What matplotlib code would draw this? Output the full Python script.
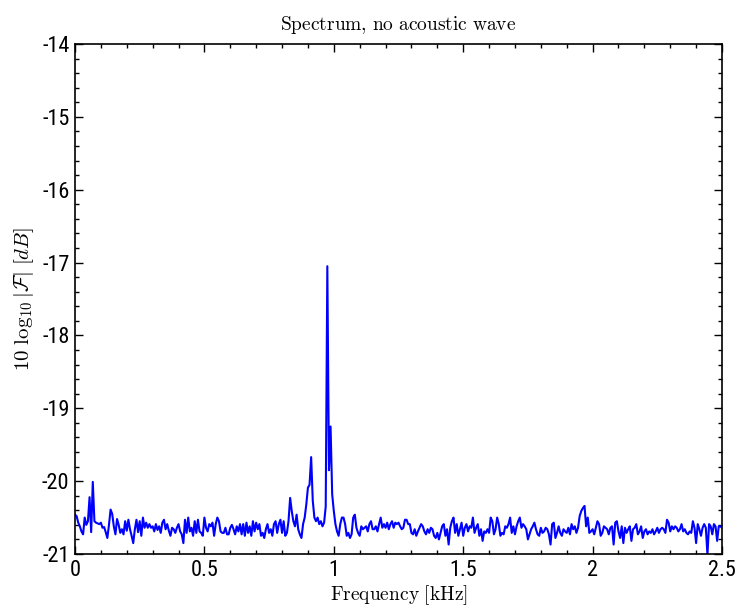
import numpy as np
import matplotlib
matplotlib.use("Agg")
import matplotlib.pyplot as plt
from matplotlib.ticker import MultipleLocator
from matplotlib import font_manager as fm

# Spectrum magnitude [dB], uniformly sampled from 0 to 2.5 kHz
f_start_khz = 0.0
f_stop_khz = 2.5
spectrum_db = [
    # 0.000 - 0.600
    -20.46, -20.48, -20.57, -20.62, -20.69, -20.73, -20.50, -20.60, -20.55, -20.22,
    -20.70, -20.01, -20.55, -20.57, -20.58, -20.59, -20.57, -20.64, -20.63, -20.70,
    -20.78, -20.60, -20.39, -20.45, -20.62, -20.73, -20.52, -20.60, -20.71, -20.66,
    -20.73, -20.55, -20.68, -20.53, -20.66, -20.75, -20.85, -20.66, -20.53, -20.70,
    -20.55, -20.75, -20.50, -20.64, -20.57, -20.64, -20.59, -20.64, -20.62, -20.69,
    -20.59, -20.67, -20.62, -20.71, -20.57, -20.53, -20.66, -20.59, -20.68, -20.75,
    -20.64, -20.66, -20.71, -20.64, -20.59, -20.69, -20.73, -20.85, -20.53, -20.71,
    -20.50, -20.69, -20.64, -20.75, -20.55, -20.71, -20.53, -20.69, -20.71, -20.75,
    -20.50, -20.64, -20.69, -20.59, -20.62, -20.57, -20.75, -20.59, -20.50, -20.55,
    -20.69, -20.71, -20.71, -20.64, -20.73, -20.73, -20.64,
    # 0.606 - 1.244
    -20.60, -20.66, -20.73, -20.62, -20.69, -20.59, -20.73, -20.59, -20.75, -20.57,
    -20.71, -20.62, -20.75, -20.55, -20.69, -20.57, -20.66, -20.59, -20.75, -20.71,
    -20.78, -20.66, -20.59, -20.71, -20.66, -20.75, -20.59, -20.55, -20.71, -20.59,
    -20.53, -20.71, -20.55, -20.75, -20.71, -20.55, -20.23, -20.41, -20.55, -20.62,
    -20.46, -20.66, -20.73, -20.78, -20.59, -20.50, -20.32, -20.09, -20.05, -19.67,
    -20.27, -20.50, -20.55, -20.50, -20.59, -20.55, -20.62, -20.57, -20.35, -17.05,
    -19.85, -19.25, -20.18, -20.41, -20.59, -20.69, -20.75, -20.59, -20.50, -20.50,
    -20.59, -20.75, -20.71, -20.78, -20.73, -20.50, -20.46, -20.64, -20.71, -20.75,
    -20.62, -20.66, -20.64, -20.62, -20.69, -20.59, -20.55, -20.66, -20.66, -20.62,
    -20.69, -20.59, -20.50, -20.64, -20.59, -20.64, -20.57, -20.66, -20.59, -20.55,
    -20.64, -20.57, -20.59,
    # 1.250 - 1.863
    -20.57, -20.62, -20.66, -20.64, -20.53, -20.53, -20.59, -20.59, -20.71, -20.73,
    -20.66, -20.75, -20.69, -20.64, -20.59, -20.62, -20.69, -20.73, -20.66, -20.71,
    -20.64, -20.66, -20.75, -20.78, -20.71, -20.80, -20.71, -20.62, -20.59, -20.75,
    -20.66, -20.87, -20.64, -20.55, -20.50, -20.71, -20.59, -20.75, -20.66, -20.57,
    -20.75, -20.64, -20.59, -20.69, -20.62, -20.64, -20.50, -20.71, -20.64, -20.59,
    -20.75, -20.66, -20.82, -20.69, -20.71, -20.66, -20.71, -20.50, -20.55, -20.73,
    -20.66, -20.50, -20.59, -20.75, -20.71, -20.73, -20.62, -20.64, -20.59, -20.50,
    -20.71, -20.62, -20.73, -20.62, -20.55, -20.50, -20.64, -20.59, -20.62, -20.66,
    -20.80, -20.73, -20.66, -20.62, -20.57, -20.66, -20.73, -20.75, -20.64, -20.71,
    -20.69, -20.64, -20.66, -20.73, -20.87, -20.59, -20.57, -20.78, -20.71,
    # 1.869 - 2.500
    -20.62, -20.71, -20.75, -20.66, -20.69, -20.71, -20.64, -20.73, -20.59, -20.66,
    -20.62, -20.71, -20.64, -20.48, -20.41, -20.37, -20.34, -20.62, -20.50, -20.71,
    -20.69, -20.66, -20.73, -20.64, -20.55, -20.59, -20.75, -20.71, -20.62, -20.64,
    -20.66, -20.73, -20.64, -20.62, -20.87, -20.57, -20.55, -20.69, -20.78, -20.62,
    -20.85, -20.64, -20.71, -20.66, -20.62, -20.82, -20.66, -20.64, -20.59, -20.73,
    -20.69, -20.62, -20.78, -20.69, -20.66, -20.73, -20.69, -20.71, -20.66, -20.73,
    -20.69, -20.64, -20.71, -20.66, -20.64, -20.66, -20.71, -20.53, -20.57, -20.69,
    -20.62, -20.66, -20.62, -20.64, -20.69, -20.66, -20.59, -20.69, -20.66, -20.71,
    -20.73, -20.69, -20.71, -20.55, -20.64, -20.85, -20.59, -20.66, -20.75, -20.64,
    -20.59, -20.64, -21.01, -20.59, -20.62, -20.73, -20.59, -20.62, -20.82, -20.62,
    -20.62, -20.64,
]

x_ticks = [0, 0.5, 1, 1.5, 2, 2.5]
x_tick_labels = ["0", "0.5", "1", "1.5", "2", "2.5"]
y_ticks = [-21, -20, -19, -18, -17, -16, -15, -14]
y_tick_labels = ["-21", "-20", "-19", "-18", "-17", "-16", "-15", "-14"]

title_text = r"$\mathrm{Spectrum{,}\ no\ acoustic\ wave}$"
xlabel_text = r"$\mathrm{Frequency\ [kHz]}$"
ylabel_text = r"$10\ \log_{10}|\mathcal{F}|\ [dB]$"

plt.rcParams["mathtext.fontset"] = "cm"

# pick a regular-weight narrow sans for tick labels if one is installed
fonts = fm.fontManager.ttflist
narrow = None
for cand in ["Liberation Sans Narrow", "Arial Narrow", "DejaVu Sans Condensed",
             "Roboto Condensed", "Open Sans Condensed"]:
    weights = [f.weight for f in fonts if f.name == cand]
    if weights:
        narrow = cand
        narrow_weight = 400 if 400 in weights or "normal" in weights else 300
        break
if narrow is not None:
    tick_family = [narrow, "DejaVu Sans"]
    tick_size = 16
    tick_weight = narrow_weight
else:
    tick_family = ["DejaVu Sans"]
    tick_size = 14
    tick_weight = 400

freq = np.linspace(f_start_khz, f_stop_khz, len(spectrum_db))

fig = plt.figure(figsize=(7.37, 6.14), dpi=100)
ax = fig.add_axes([75 / 737, 1 - 554 / 614, (722 - 75) / 737, (554 - 44) / 614])
ax.plot(freq, spectrum_db, color="#0000ff", lw=1.5)

ax.set_xlim(0, 2.5)
ax.set_ylim(-21, -14)
ax.set_xticks(x_ticks)
ax.set_xticklabels(x_tick_labels)
ax.set_yticks(y_ticks)
ax.set_yticklabels(y_tick_labels)
ax.xaxis.set_minor_locator(MultipleLocator(0.1))
ax.yaxis.set_minor_locator(MultipleLocator(0.2))
ax.tick_params(which="both", direction="in", top=True, right=True, width=1.0, color="black")
ax.tick_params(which="major", length=6, labelsize=tick_size, pad=4)
ax.tick_params(which="minor", length=3)
for lab in ax.get_xticklabels() + ax.get_yticklabels():
    lab.set_family(tick_family)
    lab.set_fontweight(tick_weight)
for s in ax.spines.values():
    s.set_linewidth(1.2)

ax.set_title(title_text, fontsize=14, pad=10)
ax.set_xlabel(xlabel_text, fontsize=14, labelpad=2)
ax.set_ylabel(ylabel_text, fontsize=15, labelpad=4)

fig.savefig("out.png", dpi=100)
